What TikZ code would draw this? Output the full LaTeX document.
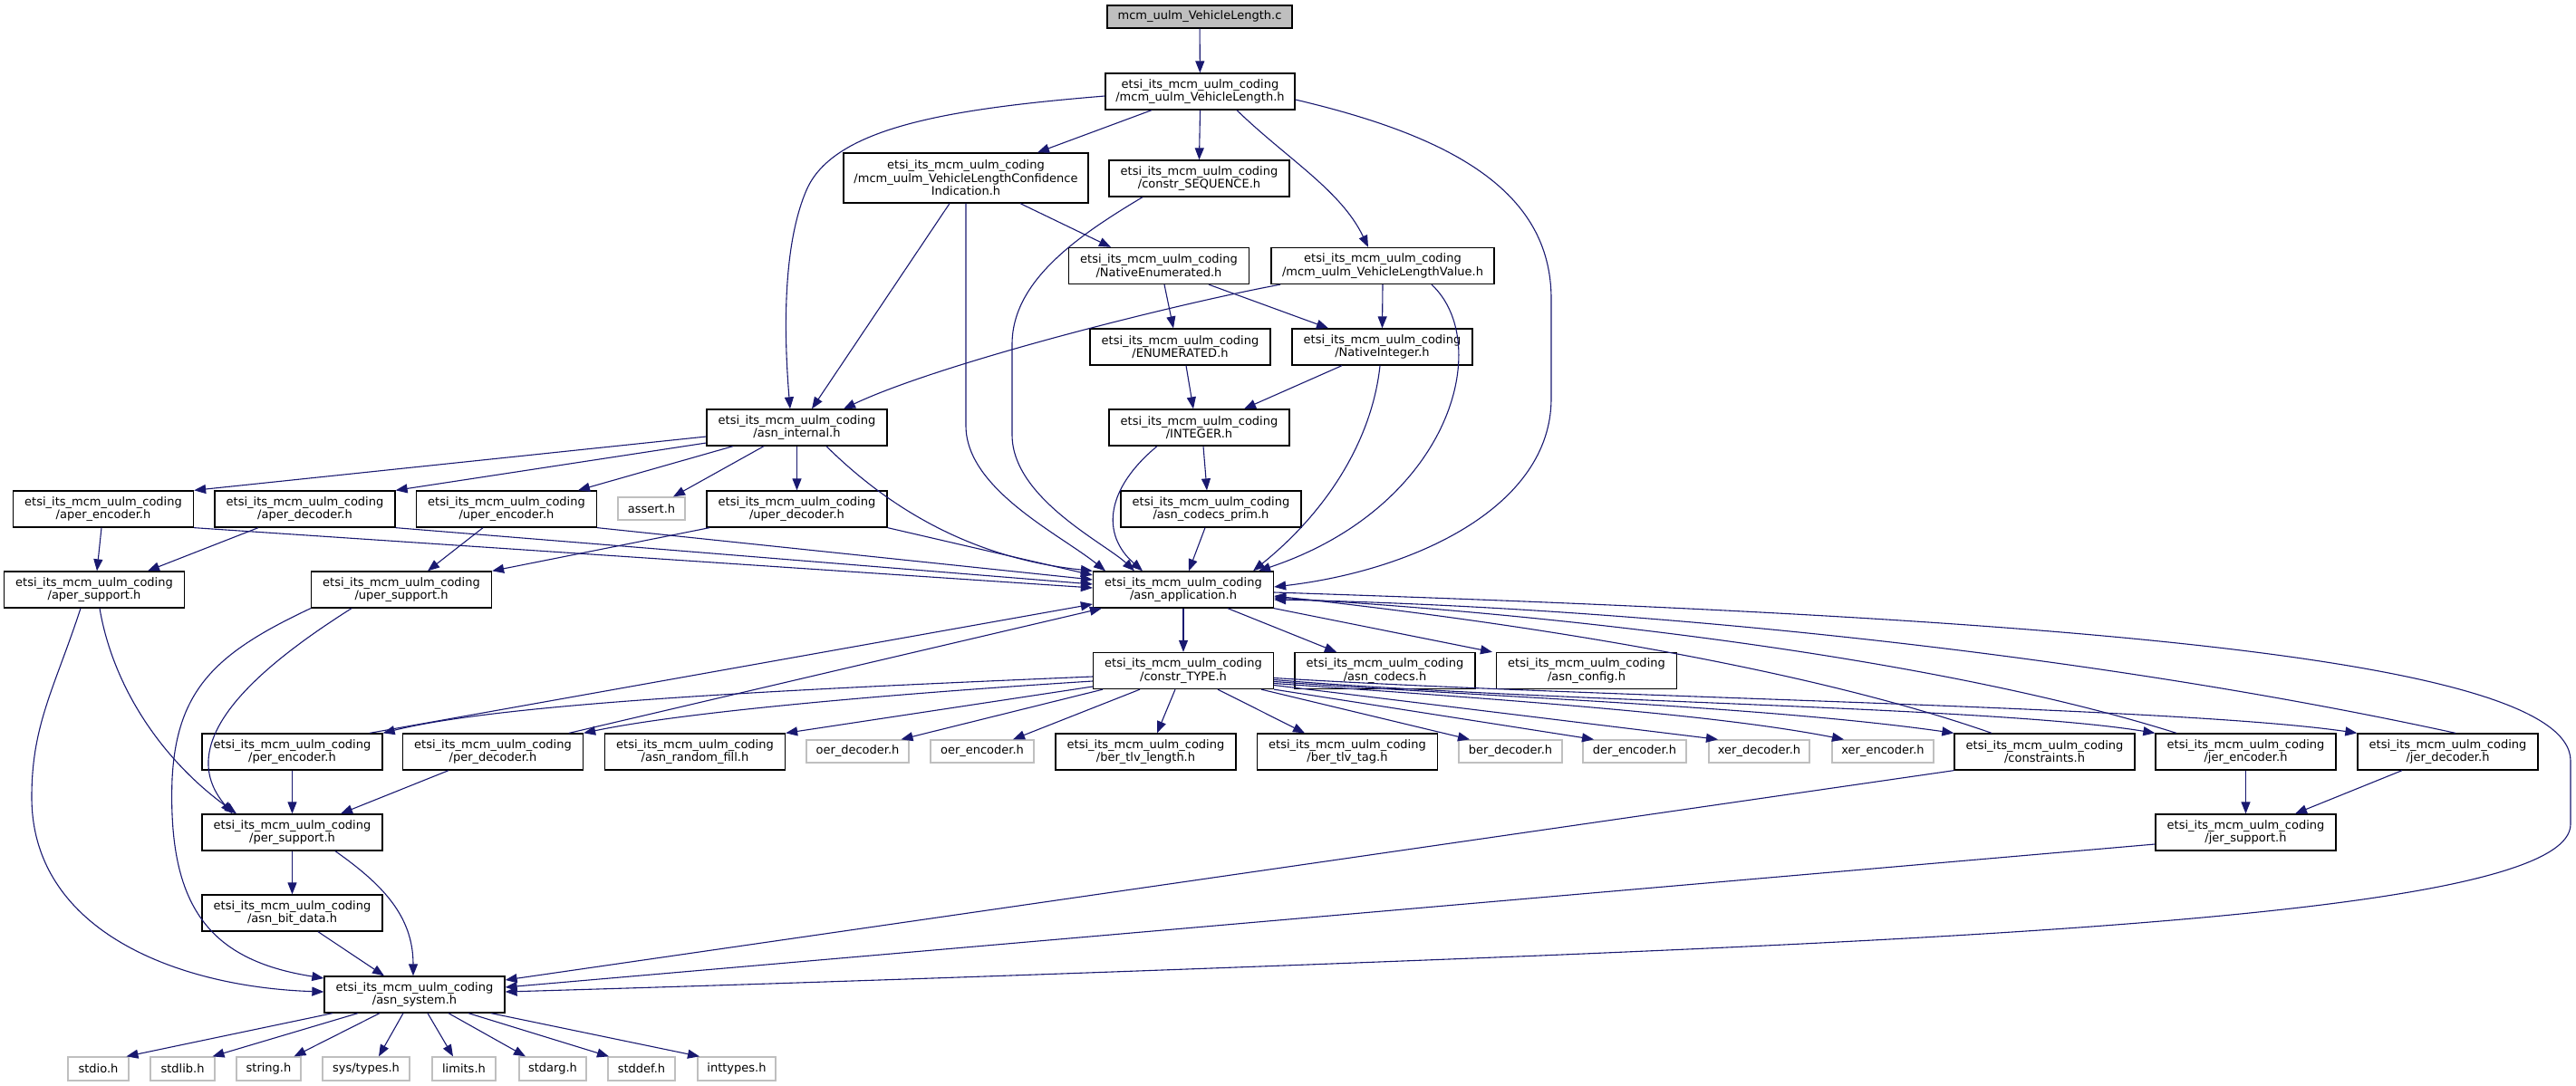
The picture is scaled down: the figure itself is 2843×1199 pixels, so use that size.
\documentclass[tikz,border=0pt]{standalone}
\usepackage{fontspec}
\setmainfont{DejaVu Sans}
\usetikzlibrary{arrows.meta}
\definecolor{edgec}{HTML}{191970}
\newcommand\etsi[1]{etsi\_its\_mcm\_uulm\_coding\\#1}
\begin{document}
\begin{tikzpicture}[x=1pt,y=-1pt,
 box/.style={draw=black, line width=1.3pt, fill=white, inner sep=0pt, align=center,
   font=\fontsize{13}{14.5}\selectfont, minimum width=199pt, minimum height=40pt},
 gbox/.style={box, draw=gray!50, minimum height=25pt},
 edge/.style={draw=edgec, line width=1.1pt, -{Triangle[length=13pt,width=10pt]}},
]
\useasboundingbox (0,0) rectangle (2843,1199);
% nodes
\node[box,fill=gray!50,minimum width=204pt,minimum height=25pt] (main) at (1324,18.5) {mcm\_uulm\_VehicleLength.c};
\node[box,minimum width=209pt] (VLh) at (1324.5,101) {\etsi{/mcm\_uulm\_VehicleLength.h}};
\node[box,minimum width=270pt,minimum height=55pt] (Conf) at (1066,196.5) {etsi\_its\_mcm\_uulm\_coding\\/mcm\_uulm\_VehicleLengthConfidence\\Indication.h};
\node[box] (cSEQ) at (1323.5,197) {\etsi{/constr\_SEQUENCE.h}};
\node[box] (NEnum) at (1279,293.5) {\etsi{/NativeEnumerated.h}};
\node[box,minimum width=246pt] (VLVal) at (1526,293.5) {\etsi{/mcm\_uulm\_VehicleLengthValue.h}};
\node[box] (ENUM) at (1302.5,383) {\etsi{/ENUMERATED.h}};
\node[box] (NInt) at (1525.5,383) {\etsi{/NativeInteger.h}};
\node[box] (asnint) at (879.5,472) {\etsi{/asn\_internal.h}};
\node[box] (INT) at (1323.5,472) {\etsi{/INTEGER.h}};
\node[box] (aperenc) at (114,562) {\etsi{/aper\_encoder.h}};
\node[box] (aperdec) at (336.5,562) {\etsi{/aper\_decoder.h}};
\node[box] (uperenc) at (559,562) {\etsi{/uper\_encoder.h}};
\node[gbox,minimum width=74pt] (assert) at (719,561.5) {assert.h};
\node[box] (uperdec) at (879.5,562) {\etsi{/uper\_decoder.h}};
\node[box] (cprim) at (1336.5,562) {\etsi{/asn\_codecs\_prim.h}};
\node[box] (apersup) at (104,651) {\etsi{/aper\_support.h}};
\node[box] (upersup) at (443,651) {\etsi{/uper\_support.h}};
\node[box] (asnapp) at (1306,651) {\etsi{/asn\_application.h}};
\node[box] (cTYPE) at (1306,740.5) {\etsi{/constr\_TYPE.h}};
\node[box] (codecs) at (1528.5,740.5) {\etsi{/asn\_codecs.h}};
\node[box] (config) at (1751,740.5) {\etsi{/asn\_config.h}};
\node[box] (perenc) at (322.5,830) {\etsi{/per\_encoder.h}};
\node[box] (perdec) at (544,830) {\etsi{/per\_decoder.h}};
\node[box] (rfill) at (767,830) {\etsi{/asn\_random\_fill.h}};
\node[gbox,minimum width=113pt] (oerdec) at (946.5,829.5) {oer\_decoder.h};
\node[gbox,minimum width=114pt] (oerenc) at (1084,829.5) {oer\_encoder.h};
\node[box] (tlvlen) at (1264.5,830) {\etsi{/ber\_tlv\_length.h}};
\node[box] (tlvtag) at (1487,830) {\etsi{/ber\_tlv\_tag.h}};
\node[gbox,minimum width=114pt] (berdec) at (1667,829.5) {ber\_decoder.h};
\node[gbox,minimum width=114pt] (derenc) at (1804,829.5) {der\_encoder.h};
\node[gbox,minimum width=111pt] (xerdec) at (1941.5,829.5) {xer\_decoder.h};
\node[gbox,minimum width=112pt] (xerenc) at (2078,829.5) {xer\_encoder.h};
\node[box] (constr) at (2256.5,830) {\etsi{/constraints.h}};
\node[box] (jerenc) at (2478.5,830) {\etsi{/jer\_encoder.h}};
\node[box] (jerdec) at (2701.5,830) {\etsi{/jer\_decoder.h}};
\node[box] (persup) at (322.5,919) {\etsi{/per\_support.h}};
\node[box] (jersup) at (2478.5,919) {\etsi{/jer\_support.h}};
\node[box] (bitdata) at (322.5,1008) {\etsi{/asn\_bit\_data.h}};
\node[box] (asnsys) at (457.5,1098) {\etsi{/asn\_system.h}};
\node[gbox,minimum width=67pt,minimum height=26pt] (stdio) at (108.5,1180) {stdio.h};
\node[gbox,minimum width=71pt,minimum height=26pt] (stdlib) at (201.5,1180) {stdlib.h};
\node[gbox,minimum width=71pt,minimum height=26pt] (string) at (296.5,1180) {string.h};
\node[gbox,minimum width=96pt,minimum height=26pt] (systypes) at (404,1180) {sys/types.h};
\node[gbox,minimum width=70pt,minimum height=26pt] (limits) at (512,1180) {limits.h};
\node[gbox,minimum width=74pt,minimum height=26pt] (stdarg) at (610,1180) {stdarg.h};
\node[gbox,minimum width=74pt,minimum height=26pt] (stddef) at (708,1180) {stddef.h};
\node[gbox,minimum width=86pt,minimum height=26pt] (inttypes) at (813,1180) {inttypes.h};
% edges
\draw[edge] (main) -- (VLh);
\draw[edge] ([yshift=-5pt]VLh.west) .. controls (1050,120) and (920,140) .. (890,210) .. controls (862,275) and (866,380) .. ([xshift=-7.5pt]asnint.north);
\draw[edge] ([xshift=-53.5pt]VLh.south) -- ([xshift=79pt]Conf.north);
\draw[edge] (VLh.south) -- (cSEQ.north);
\draw[edge] ([xshift=40.5pt]VLh.south) .. controls (1420,175) and (1480,210) .. ([xshift=-16pt]VLVal.north);
\draw[edge] ([yshift=-9pt]VLh.east) .. controls (1600,150) and (1712,210) .. (1712,330) -- (1712,440) .. controls (1712,560) and (1560,630) .. ([yshift=3pt]asnapp.east);
\draw[edge] ([xshift=-18pt]Conf.south) -- ([xshift=16.5pt]asnint.north);
\draw[edge] (Conf.south) -- (1066,470) .. controls (1066,540) and (1170,590) .. ([xshift=-86pt]asnapp.north);
\draw[edge] ([xshift=60pt]Conf.south) -- ([xshift=-53pt]NEnum.north);
\draw[edge] ([xshift=-62.5pt]cSEQ.south) .. controls (1190,260) and (1117,310) .. (1117,380) -- (1117,480) .. controls (1117,550) and (1220,600) .. ([xshift=-54pt]asnapp.north);
\draw[edge] ([xshift=6pt]NEnum.south) -- ([xshift=-7.5pt]ENUM.north);
\draw[edge] ([xshift=55pt]NEnum.south) -- ([xshift=-59.5pt]NInt.north);
\draw[edge] (VLVal.south) -- (NInt.north);
\draw[edge] ([xshift=-113pt]VLVal.south) .. controls (1300,335) and (1040,400) .. ([xshift=51.5pt]asnint.north);
\draw[edge] ([xshift=54pt]VLVal.south) .. controls (1650,380) and (1600,560) .. ([xshift=83pt]asnapp.north);
\draw[edge] ([xshift=6.5pt]ENUM.south) -- ([xshift=-6.5pt]INT.north);
\draw[edge] ([xshift=-44.5pt]NInt.south) -- ([xshift=49.5pt]INT.north);
\draw[edge] ([xshift=-2.5pt]NInt.south) .. controls (1515,480) and (1470,560) .. ([xshift=77pt]asnapp.north);
\draw[edge] ([xshift=4.5pt]INT.south) -- ([xshift=-4.5pt]cprim.north);
\draw[edge] ([xshift=-46.5pt]INT.south) .. controls (1220,540) and (1215,590) .. ([xshift=-45pt]asnapp.north);
\draw[edge] ([xshift=-6.5pt]cprim.south) -- ([xshift=6pt]asnapp.north);
\draw[edge] ([yshift=-10pt]asnint.west) -- (aperenc.north east);
\draw[edge] ([yshift=-17pt]asnint.west) -- (aperdec.north east);
\draw[edge] ([xshift=-70.5pt]asnint.south) -- ([xshift=79pt]uperenc.north);
\draw[edge] ([xshift=-36.5pt]asnint.south) -- ([xshift=24pt]assert.north);
\draw[edge] (asnint.south) -- (uperdec.north);
\draw[edge] ([xshift=32.5pt]asnint.south) .. controls (970,550) and (1060,615) .. (asnapp.north west);
\draw[edge] ([xshift=-2pt]aperenc.south) -- ([xshift=3pt]apersup.north);
\draw[edge] (aperenc.south east) -- ([yshift=2pt]asnapp.west);
\draw[edge] ([xshift=-51.5pt]aperdec.south) -- ([xshift=59pt]apersup.north);
\draw[edge] (aperdec.south east) -- ([yshift=6pt]asnapp.west);
\draw[edge] ([xshift=-26pt]uperenc.south) -- ([xshift=29pt]upersup.north);
\draw[edge] (uperenc.south east) -- ([yshift=11pt]asnapp.west);
\draw[edge] ([xshift=-96.5pt]uperdec.south) -- (upersup.north east);
\draw[edge] (uperdec.south east) -- ([yshift=16pt]asnapp.west);
\draw[edge] ([xshift=-15pt]apersup.south) .. controls (60,760) and (35,800) .. (35,880) .. controls (35,1030) and (200,1090) .. ([yshift=3pt]asnsys.west);
\draw[edge] ([xshift=6pt]apersup.south) .. controls (125,760) and (180,840) .. ([xshift=-61.5pt]persup.north);
\draw[edge] (upersup.south west) .. controls (240,720) and (195,760) .. (190,860) .. controls (185,1000) and (230,1060) .. ([yshift=18pt]asnsys.west);
\draw[edge] ([xshift=-55pt]upersup.south) .. controls (280,740) and (190,820) .. ([xshift=-66pt]persup.north);
\draw[edge] (perenc.south) -- (persup.north);
\draw[edge] ([xshift=-49pt]perdec.south) -- ([xshift=53.5pt]persup.north);
\draw[edge] (persup.south) -- (bitdata.north);
\draw[edge] ([xshift=47.5pt]persup.south) .. controls (420,975) and (456,1010) .. ([xshift=-1.5pt]asnsys.north);
\draw[edge] ([xshift=28.5pt]bitdata.south) -- ([xshift=-33.5pt]asnsys.north);
\draw[edge] ([xshift=-90.5pt]asnsys.south) -- ([xshift=31pt]stdio.north);
\draw[edge] ([xshift=-62.5pt]asnsys.south) -- ([xshift=33pt]stdlib.north);
\draw[edge] ([xshift=-38.5pt]asnsys.south) -- ([xshift=28pt]string.north);
\draw[edge] ([xshift=-12.5pt]asnsys.south) -- ([xshift=14pt]systypes.north);
\draw[edge] ([xshift=14.5pt]asnsys.south) -- ([xshift=-12pt]limits.north);
\draw[edge] ([xshift=37.5pt]asnsys.south) -- ([xshift=-30pt]stdarg.north);
\draw[edge] ([xshift=59.5pt]asnsys.south) -- ([xshift=-36pt]stddef.north);
\draw[edge] ([xshift=84.5pt]asnsys.south) -- ([xshift=-41pt]inttypes.north);
\draw[edge] (asnapp.south) -- (cTYPE.north);
\draw[edge] ([xshift=49pt]asnapp.south) -- ([xshift=-53.5pt]codecs.north);
\draw[edge] (asnapp.south east) -- ([xshift=-104pt]config.north);
\draw[edge] ([yshift=-3pt]asnapp.east) .. controls (2200,680) and (2837,720) .. (2837,840) -- (2837,910) .. controls (2837,1000) and (2300,1030) .. (1700,1055) .. controls (1200,1075) and (800,1088) .. ([yshift=3pt]asnsys.east);
\draw[edge] ([yshift=-6.5pt]cTYPE.west) .. controls (900,760) and (560,775) .. (perenc.north east);
\draw[edge] ([yshift=-11.5pt]cTYPE.west) .. controls (1000,765) and (760,785) .. (perdec.north east);
\draw[edge] ([yshift=-17.5pt]cTYPE.west) -- (rfill.north east);
\draw[edge] ([xshift=-89pt]cTYPE.south) -- ([xshift=48pt]oerdec.north);
\draw[edge] ([xshift=-48pt]cTYPE.south) -- ([xshift=34pt]oerenc.north);
\draw[edge] ([xshift=-9pt]cTYPE.south) -- ([xshift=12.5pt]tlvlen.north);
\draw[edge] ([xshift=38pt]cTYPE.south) -- ([xshift=-47pt]tlvtag.north);
\draw[edge] ([xshift=86pt]cTYPE.south) -- ([xshift=-45pt]berdec.north);
\draw[edge] (cTYPE.south east) -- ([xshift=-45pt]derenc.north);
\draw[edge] ([yshift=-16pt]cTYPE.east) -- ([xshift=-45.5pt]xerdec.north);
\draw[edge] ([yshift=-14pt]cTYPE.east) .. controls (1700,775) and (1900,790) .. ([xshift=-43pt]xerenc.north);
\draw[edge] ([yshift=-12pt]cTYPE.east) .. controls (1650,770) and (1950,780) .. (constr.north west);
\draw[edge] ([yshift=-10pt]cTYPE.east) .. controls (1700,775) and (2200,780) .. (jerenc.north west);
\draw[edge] ([yshift=-8pt]cTYPE.east) .. controls (1750,770) and (2400,780) .. (jerdec.north west);
\draw[edge] ([xshift=85.5pt]perenc.north) -- ([yshift=-16pt]asnapp.west);
\draw[edge] ([xshift=84pt]perdec.north) -- ([xshift=10pt]asnapp.south west);
\draw[edge] ([xshift=-58.5pt]constr.north) .. controls (2000,740) and (1700,690) .. ([yshift=-7pt]asnapp.east);
\draw[edge] ([xshift=-76.5pt]jerenc.north) .. controls (2150,730) and (1750,680) .. ([yshift=-9pt]asnapp.east);
\draw[edge] ([xshift=8.5pt]jerdec.north) .. controls (2300,720) and (1800,670) .. ([yshift=-11pt]asnapp.east);
\draw[edge] (constr.south west) -- ([yshift=16pt]asnsys.east);
\draw[edge] ([yshift=-13pt]jersup.west) -- ([yshift=8pt]asnsys.east);
\draw[edge] (jerenc.south) -- (jersup.north);
\draw[edge] ([xshift=-50.5pt]jerdec.south) -- ([xshift=54.5pt]jersup.north);
\end{tikzpicture}
\end{document}
